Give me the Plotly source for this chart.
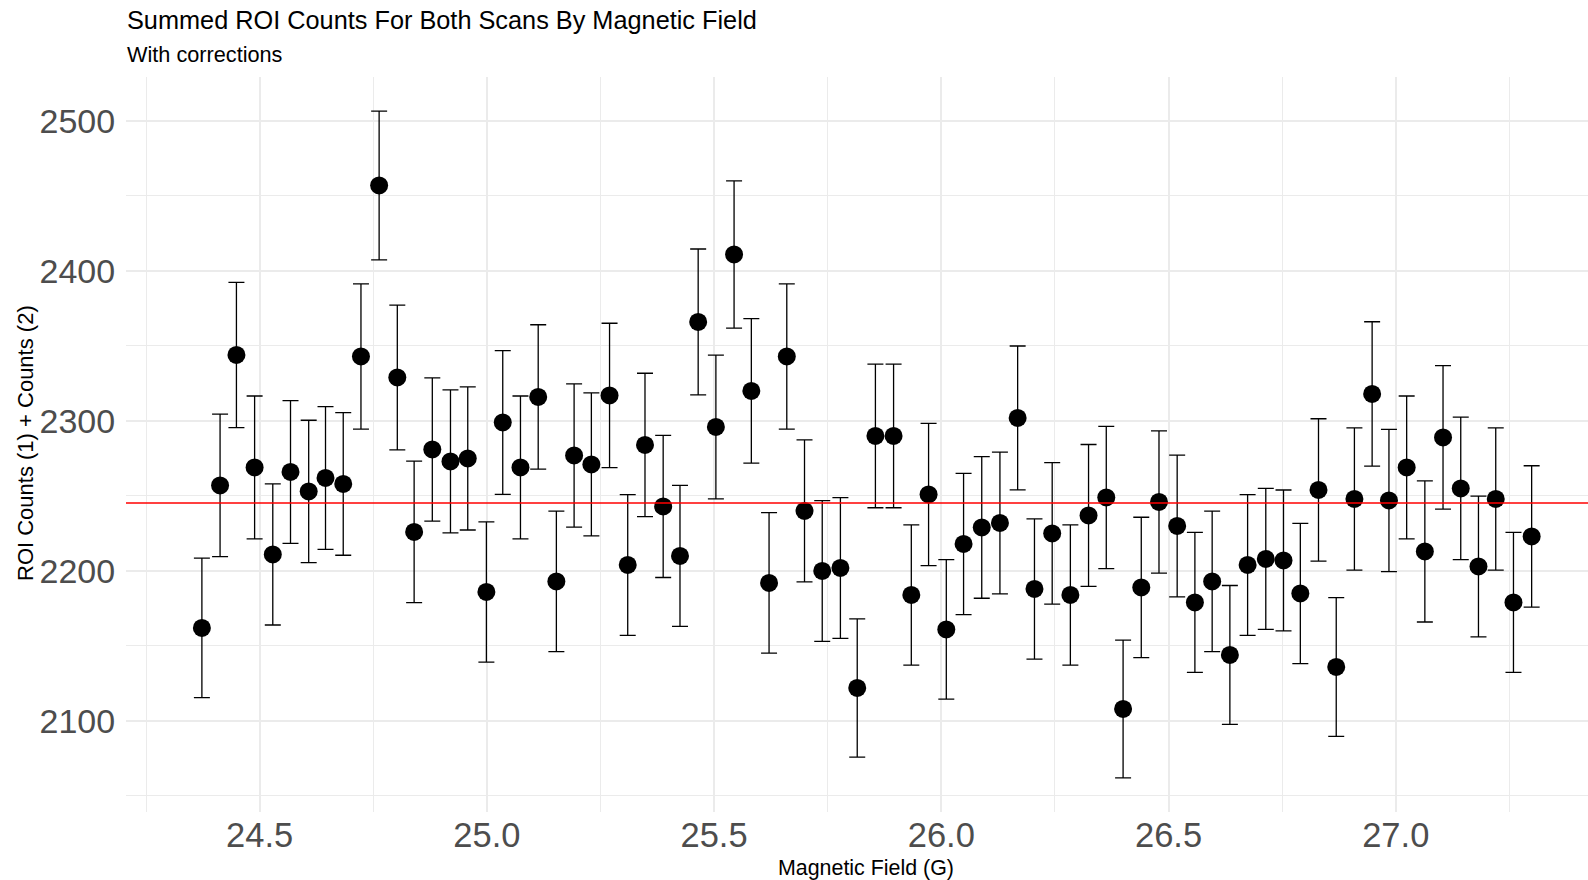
import numpy as np
import plotly.graph_objects as go

# Magnetic field setpoints (G) and summed ROI counts from both scans
field = [
    24.373, 24.413, 24.449, 24.489, 24.529, 24.568, 24.608, 24.645, 24.684, 24.723,
    24.763, 24.803, 24.840, 24.880, 24.920, 24.958, 24.999, 25.035, 25.074, 25.113,
    25.153, 25.192, 25.230, 25.270, 25.310, 25.348, 25.388, 25.425, 25.465, 25.504,
    25.544, 25.582, 25.621, 25.660, 25.699, 25.738, 25.778, 25.815, 25.855, 25.895,
    25.934, 25.972, 26.011, 26.049, 26.089, 26.129, 26.168, 26.205, 26.244, 26.284,
    26.324, 26.363, 26.400, 26.440, 26.479, 26.519, 26.558, 26.596, 26.635, 26.674,
    26.714, 26.753, 26.790, 26.830, 26.869, 26.909, 26.948, 26.985, 27.024, 27.064,
    27.104, 27.143, 27.182, 27.220, 27.259, 27.299,
]
counts = [
    2162, 2257, 2344, 2269, 2211, 2266, 2253, 2262, 2258, 2343,
    2457, 2329, 2226, 2281, 2273, 2275, 2186, 2299, 2269, 2316,
    2193, 2277, 2271, 2317, 2204, 2284, 2243, 2210, 2366, 2296,
    2411, 2320, 2192, 2343, 2240, 2200, 2202, 2122, 2290, 2290,
    2184, 2251, 2161, 2218, 2229, 2232, 2302, 2188, 2225, 2184,
    2237, 2249, 2108, 2189, 2246, 2230, 2179, 2193, 2144, 2204,
    2208, 2207, 2185, 2254, 2136, 2248, 2318, 2247, 2269, 2213,
    2289, 2255, 2203, 2248, 2179, 2223,
]
x_ticks = [24.5, 25.0, 25.5, 26.0, 26.5, 27.0]
x_tick_text = ["24.5", "25.0", "25.5", "26.0", "26.5", "27.0"]
y_ticks = [2100, 2200, 2300, 2400, 2500]
y_tick_text = ["2100", "2200", "2300", "2400", "2500"]

# Poisson uncertainty on the summed counts
errors = np.sqrt(np.array(counts, dtype=float))
mean_counts = float(np.mean(counts))

W, H = 1588, 880
ML, MT, MB = 126, 77, 68
PW, PH = W - ML, H - MT - MB
FONT = "Liberation Sans, Arial, sans-serif"
GRID = "#EBEBEB"


def px_x(px):
    return (px - ML) / PW


def px_y(py):
    return (H - MB - py) / PH


fig = go.Figure()
fig.add_trace(go.Scatter(
    x=field, y=counts, mode="markers",
    marker=dict(color="black", size=18),
    error_y=dict(type="data", array=errors, visible=True,
                 color="black", thickness=1.3, width=8),
    showlegend=False, hoverinfo="x+y",
))

fig.add_hline(y=mean_counts, line_color="red", line_width=1.3, layer="above")

fig.update_layout(
    width=W, height=H,
    paper_bgcolor="white", plot_bgcolor="white",
    margin=dict(l=ML, r=0, t=MT, b=MB),
    font=dict(family=FONT),
    showlegend=False,
    annotations=[
        dict(text="Summed ROI Counts For Both Scans By Magnetic Field",
             xref="paper", yref="paper", x=px_x(125), y=px_y(36),
             xanchor="left", yanchor="bottom", showarrow=False,
             font=dict(size=25.3, color="black", family=FONT)),
        dict(text="With corrections",
             xref="paper", yref="paper", x=px_x(125), y=px_y(69),
             xanchor="left", yanchor="bottom", showarrow=False,
             font=dict(size=21.7, color="black", family=FONT)),
        dict(text="Magnetic Field (G)",
             xref="paper", yref="paper", x=px_x(866), y=px_y(868),
             xanchor="center", yanchor="middle", showarrow=False,
             font=dict(size=21.4, color="black", family=FONT)),
        dict(text="ROI Counts (1) + Counts (2)", textangle=-90,
             xref="paper", yref="paper", x=px_x(25), y=px_y(443),
             xanchor="center", yanchor="middle", showarrow=False,
             font=dict(size=22, color="black", family=FONT)),
    ],
)

fig.update_xaxes(
    range=[24.206, 27.423],
    tickmode="array", tickvals=x_ticks, ticktext=x_tick_text,
    tickfont=dict(size=34.5, color="#4D4D4D"),
    ticks="", ticklabelstandoff=-1,
    showgrid=True, gridcolor=GRID, gridwidth=1.5,
    minor=dict(tickvals=[24.25, 24.75, 25.25, 25.75, 26.25, 26.75, 27.25],
               showgrid=True, gridcolor=GRID, gridwidth=1),
    zeroline=False, showline=False,
)
fig.update_yaxes(
    range=[2039.3, 2529.3],
    tickmode="array", tickvals=y_ticks, ticktext=y_tick_text,
    tickfont=dict(size=34, color="#4D4D4D"),
    ticks="outside", ticklen=3, tickcolor="rgba(0,0,0,0)",
    showgrid=True, gridcolor=GRID, gridwidth=1.5,
    minor=dict(tickvals=[2050, 2150, 2250, 2350, 2450],
               showgrid=True, gridcolor=GRID, gridwidth=1),
    zeroline=False, showline=False,
)

fig.write_html("out.html")
